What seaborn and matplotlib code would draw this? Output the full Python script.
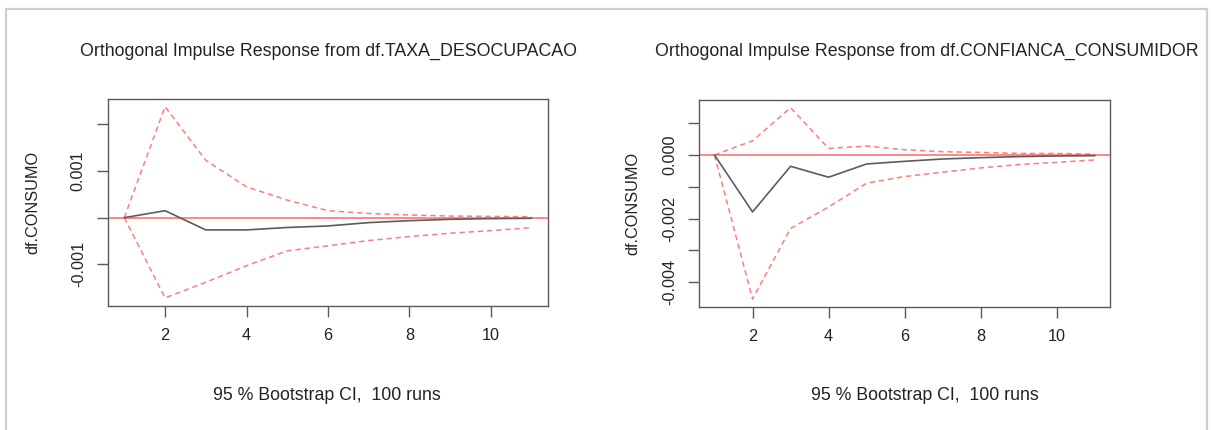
import numpy as np
import pandas as pd
import matplotlib
matplotlib.use("Agg")
import matplotlib.pyplot as plt
from matplotlib.lines import Line2D
import seaborn as sns

# ---- data ----
steps = [1, 2, 3, 4, 5, 6, 7, 8, 9, 10, 11]

taxa_irf = [0.0, 0.000149, -0.000262, -0.000262, -0.00021, -0.000177, -0.000106, -0.000064, -0.000035, -0.00002, -0.000014]
taxa_upper = [0.0, 0.002376, 0.001227, 0.00066, 0.000376, 0.000149, 0.00009, 0.000057, 0.000035, 0.000028, 0.00002]
taxa_lower = [0.0, -0.001716, -0.001383, -0.001028, -0.000709, -0.000603, -0.000489, -0.000404, -0.000333, -0.000277, -0.000213]

conf_irf = [0.0, -0.00179, -0.000354, -0.000698, -0.000281, -0.000198, -0.000125, -0.000083, -0.00005, -0.00003, -0.00002]
conf_upper = [0.0, 0.000448, 0.00149, 0.000208, 0.000281, 0.000167, 0.000104, 0.000083, 0.00005, 0.00005, 0.00003]
conf_lower = [0.0, -0.00453, -0.00231, -0.001635, -0.000885, -0.000677, -0.00054, -0.000406, -0.0003, -0.00023, -0.000156]

titles = ["Orthogonal Impulse Response from df.TAXA_DESOCUPACAO",
          "Orthogonal Impulse Response from df.CONFIANCA_CONSUMIDOR"]
ylabel = "df.CONSUMO"
subtitle = "95 % Bootstrap CI,  100 runs"
xticks = [2, 4, 6, 8, 10]
left_yticks = [-0.001, 0.0, 0.001, 0.002]
left_ylabels = ["-0.001", "", "0.001", ""]
right_yticks = [-0.004, -0.003, -0.002, -0.001, 0.0, 0.001]
right_ylabels = ["-0.004", "", "-0.002", "", "0.000", ""]

sns.set_style("white")
plt.rcParams['font.family'] = ['Liberation Sans', 'DejaVu Sans']

W, H = 1211, 430
fig = plt.figure(figsize=(W / 100, H / 100), dpi=100)

def fx(px):
    return px / W

def fy(py):
    return 1 - py / H

axes_px = [(108, 99, 548, 305.5), (699.3, 100, 1110, 306.7)]
series = [(taxa_irf, taxa_upper, taxa_lower, left_yticks, left_ylabels),
          (conf_irf, conf_upper, conf_lower, right_yticks, right_ylabels)]
title_cx = [329, 927]
label_x = [40, 640]

spine_col = "#5a5a5a"
txt_col = "#222222"
for i, ((x0, y0, x1, y1), (irf, up, lo, yt, yl)) in enumerate(zip(axes_px, series)):
    ax = fig.add_axes([fx(x0), fy(y1), fx(x1) - fx(x0), fy(y0) - fy(y1)])
    df = pd.DataFrame({"step": steps, "irf": irf, "upper": up, "lower": lo})
    ax.axhline(0, color="#ff4d4d", lw=1.1, alpha=0.85, zorder=1)
    sns.lineplot(data=df, x="step", y="upper", ax=ax, color="#ff5050", alpha=0.75,
                 lw=1.1, linestyle=(0, (3.5, 2.5)), zorder=2)
    sns.lineplot(data=df, x="step", y="lower", ax=ax, color="#ff5050", alpha=0.75,
                 lw=1.1, linestyle=(0, (3.5, 2.5)), zorder=2)
    sns.lineplot(data=df, x="step", y="irf", ax=ax, color="#5c5c5c", lw=1.2, zorder=3)
    lo_all = min(lo + irf + up)
    hi_all = max(lo + irf + up)
    ext = (hi_all - lo_all) * 0.04
    ax.set_ylim(lo_all - ext, hi_all + ext)
    ax.set_xlim(0.6, 11.4)
    ax.set_xticks(xticks)
    ax.set_xticklabels([str(t) for t in xticks])
    ax.set_yticks(yt)
    ax.set_yticklabels(yl, rotation=90, va="center")
    for s in ax.spines.values():
        s.set_color(spine_col)
        s.set_linewidth(1.0)
    ax.tick_params(axis="both", direction="out", length=8, width=1.0, color=spine_col,
                   labelsize=11.7, labelcolor=txt_col, pad=8, bottom=True, left=True)
    ax.set_xlabel("")
    ax.set_ylabel(ylabel, fontsize=11.7, color=txt_col)
    ax.yaxis.set_label_coords((label_x[i] - x0) / (x1 - x0), 0.5)
    fig.text(fx(title_cx[i]), fy(51), titles[i], ha="center", va="center",
             fontsize=12.8, color=txt_col)
    fig.text(fx(title_cx[i] - 2), fy(395), subtitle, ha="center", va="center",
             fontsize=12.8, color=txt_col)

# frame lines of the screenshot
bc = "#cdcdcd"
fig.add_artist(Line2D([fx(6), fx(6)], [0, fy(9)], color=bc, lw=1.6))
fig.add_artist(Line2D([fx(6), fx(1207)], [fy(9), fy(9)], color=bc, lw=1.6))
fig.add_artist(Line2D([fx(1207), fx(1207)], [0, fy(9)], color=bc, lw=1.6))

fig.savefig("out.png", dpi=100)
